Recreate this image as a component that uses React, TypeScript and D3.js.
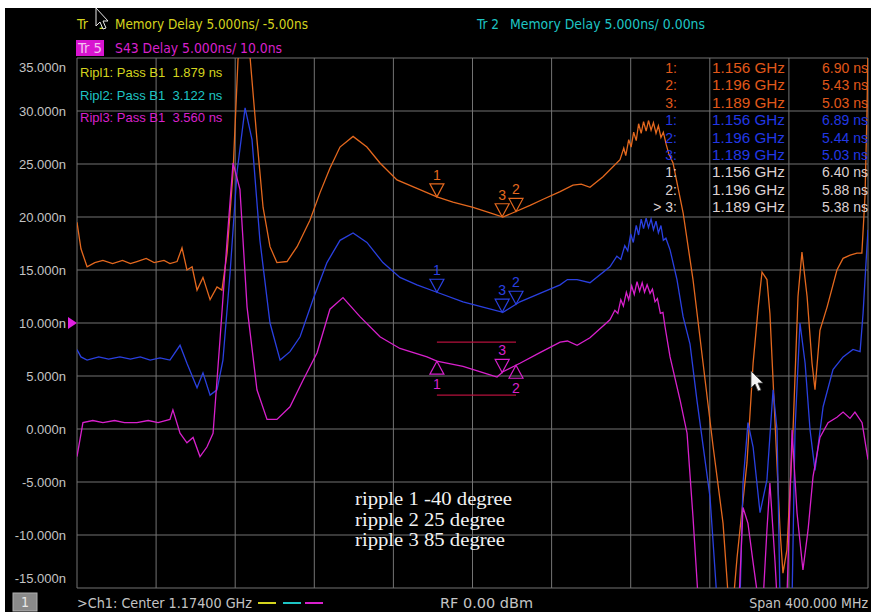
import React from "react";
import * as d3 from "d3";

// traces as [frequency MHz, displayed delay ns on the left scale]
const orangeTrace: [number, number][] = [
  [974.0, 19.5], [976.0, 17.0], [979.1, 15.3], [983, 15.7], [987.1, 15.9], [992, 15.6], [997, 15.9], [1001, 15.6],
  [1004.3, 15.8], [1009, 16.1], [1013, 15.7], [1018, 15.9], [1021, 15.6], [1024.6, 15.8], [1027.1, 17.1], [1029.6, 15.0],
  [1032.2, 15.3], [1034.7, 13.1], [1037.7, 14.3], [1041.3, 12.2], [1044.8, 13.4], [1047.3, 13.1], [1049.9, 16.6],
  [1052.9, 24.2], [1055.4, 34.8], [1057.4, 38], [1059.5, 38], [1061.5, 35.1], [1065.0, 27.3], [1068.1, 20.9],
  [1071.6, 17.2], [1075.1, 15.7], [1080.2, 15.8], [1085.3, 17.2], [1091.8, 19.7], [1096.9, 22.3], [1101.9, 24.6],
  [1107.0, 26.6], [1113.6, 27.6], [1120.6, 26.6], [1127.2, 25.1], [1135.8, 23.5], [1145.9, 22.7], [1156.0, 21.9],
  [1164.1, 21.4], [1174.3, 20.9], [1182.9, 20.4], [1189.4, 20.0], [1194.5, 20.4], [1203.1, 21.1], [1210, 21.7],
  [1218.3, 22.4], [1224.8, 23.0], [1229, 23.1], [1233.4, 22.8], [1240.0, 23.8], [1248.6, 25.4], [1250.5, 26.5],
  [1251.5, 25.8], [1253.0, 27.3], [1254.2, 26.6], [1255.5, 28.0], [1256.8, 27.2], [1258.0, 28.8], [1259.3, 27.9],
  [1260.5, 29.0], [1261.8, 28.1], [1263.0, 29.1], [1264.3, 28.2], [1265.5, 28.9], [1266.8, 27.9], [1268.0, 28.6],
  [1269.3, 27.5], [1270.5, 28.0], [1272.0, 26.8], [1273.2, 26.0], [1275.4, 25.1], [1280.5, 20.4], [1285.5, 14.1],
  [1290.6, 6.2], [1295.7, -1.7], [1300.7, -8.9], [1303.2, -15.5], [1306, -16], [1307.8, -12.1], [1312.8, -3.2],
  [1315.9, 6.2], [1318.5, 11.5], [1320.4, 14.8], [1322.9, 14.1], [1324.4, 10.9], [1327.0, 0.6], [1329.5, -9.5],
  [1331.0, -13.6], [1333.0, -11.4], [1336.1, -0.1], [1338.6, 12.5], [1340.6, 16.7], [1343.2, 12.5], [1345.7, 6.2],
  [1347.2, 3.7], [1349.7, 9.3], [1353.3, 11.5], [1358.3, 15.0], [1361.4, 16.1], [1365, 16.4], [1368.4, 16.6],
  [1370.9, 16.6], [1372.5, 22], [1373.5, 30], [1374.0, 36],
];

const blueTrace: [number, number][] = [
  [974.0, 7.5], [976, 6.8], [979.1, 6.5], [985, 6.8], [990, 6.6], [995.7, 6.8], [1001, 6.6], [1006, 6.8], [1011, 6.5],
  [1016, 6.7], [1021.0, 6.5], [1026.1, 7.9], [1029.6, 6.2], [1034.7, 3.9], [1037.7, 5.3], [1041.3, 3.2], [1044.8, 3.7],
  [1047.8, 6.5], [1051.4, 14.7], [1054.9, 24.2], [1059.0, 30.3], [1062.5, 27.3], [1066.5, 17.8], [1071.6, 10.0],
  [1076.7, 6.5], [1081.7, 7.3], [1086.8, 8.7], [1093.3, 12.2], [1100.4, 15.7], [1107.0, 17.8], [1113.6, 18.5],
  [1120.6, 17.6], [1128.7, 15.7], [1137.3, 14.3], [1145.9, 13.6], [1156.0, 12.9], [1169.2, 12.0], [1179.3, 11.5],
  [1189.4, 11.0], [1198.0, 12.0], [1208.1, 12.8], [1218.3, 13.6], [1222, 14.1], [1226.9, 14.1], [1233.4, 13.8],
  [1243.5, 15.3], [1247, 16.3], [1249, 16.0], [1251, 17.3], [1252.5, 16.8], [1254, 18.4], [1255.3, 17.6],
  [1256.8, 19.2], [1258, 18.3], [1259.3, 19.8], [1260.5, 18.9], [1261.8, 19.9], [1263, 19.0], [1264.3, 19.8],
  [1265.5, 18.8], [1266.8, 19.6], [1268, 18.5], [1269.3, 19.2], [1270.5, 17.8], [1271.8, 18.0], [1273.9, 16.9],
  [1277.4, 14.1], [1280.5, 10.6], [1284.0, 8.0], [1287.5, 2.7], [1294.1, -6.4], [1297.6, -16], [1309.3, -16],
  [1310.8, -5.1], [1313.3, 0.6], [1315.9, -1.7], [1319.4, -7.9], [1322.9, -4.8], [1326.0, 3.7], [1328.0, -0.1],
  [1329.5, -16], [1335.6, -16], [1337.1, -0.1], [1339.6, 10.0], [1342.2, 6.2], [1344.7, -0.1], [1347.2, -3.9],
  [1351.3, 2.1], [1356.3, 5.6], [1361.4, 6.8], [1366.4, 7.5], [1370.0, 7.3], [1371.5, 10.9], [1373.0, 15.7],
  [1374.0, 18.8],
];

const magentaTrace: [number, number][] = [
  [974.0, -2.6], [977.0, 0.6], [982, 0.8], [987.1, 0.6], [993, 0.8], [998, 0.6], [1004.3, 0.6], [1010, 0.8],
  [1015, 0.6], [1021.0, 0.9], [1022.5, 1.8], [1026.1, -0.4], [1029.6, -1.3], [1032.7, -0.8], [1036.2, -2.6],
  [1039.7, -1.7], [1042.8, -0.4], [1046.3, 8.4], [1049.9, 17.8], [1052.9, 25.1], [1056.4, 22.6], [1060.0, 11.5],
  [1065.0, 3.7], [1070.1, 0.9], [1075.1, 0.9], [1081.7, 2.1], [1088.3, 4.6], [1095.4, 7.2], [1101.9, 11.3],
  [1108.5, 12.4], [1117.1, 10.6], [1127.2, 8.7], [1137.3, 7.6], [1151.0, 6.8], [1156.0, 6.4], [1169.2, 5.9],
  [1182.9, 5.1], [1186.4, 4.9], [1189.4, 5.4], [1198.0, 6.2], [1208.1, 7.2], [1218.3, 8.2], [1222, 8.3],
  [1226.9, 7.9], [1233.4, 8.6], [1243.5, 10.3], [1246, 11.2], [1247.5, 10.9], [1249, 12.2], [1250.3, 11.6],
  [1251.8, 12.9], [1253, 12.2], [1254.5, 13.5], [1255.8, 12.7], [1257.2, 13.9], [1258.5, 13.0], [1259.8, 13.8],
  [1261, 12.9], [1262.3, 13.6], [1263.8, 12.8], [1265, 13.2], [1266.3, 12.0], [1267.5, 12.3], [1269, 10.9],
  [1270.3, 11.0], [1271.4, 9.6], [1273.9, 6.8], [1279.0, 2.7], [1282.5, -0.4], [1285.5, -8.3], [1288.1, -16],
  [1308.8, -16], [1310.8, -7.4], [1313.3, -8.9], [1315.9, -12.6], [1318.4, -16], [1321, -16], [1322.9, -9.5],
  [1324.4, -5.1], [1327.0, -12.6], [1328.0, -16], [1333.0, -16], [1335.6, -0.1], [1338.1, -7.9], [1341.1, -13.3],
  [1343.7, -9.5], [1346.2, -4.5], [1349.7, -0.8], [1353.8, 0.6], [1358.3, 1.1], [1361.4, 1.6], [1364.9, 1.0],
  [1367.4, 1.6], [1371.0, 0.6], [1374.0, -2.9],
];

const yTicks = [35, 30, 25, 20, 15, 10, 5, 0, -5, -10, -15];
const xDivs = d3.range(0, 11);

const markerNames = ["1", "2", "3"];
const markerFreqs = ["1.156", "1.196", "1.189"];
const orangeMarkerVals = ["6.90", "5.43", "5.03"];
const blueMarkerVals = ["6.89", "5.44", "5.03"];
const magentaMarkerVals = ["6.40", "5.88", "5.38"];

const rippleLabels = ["Ripl1: Pass B1  1.879 ns", "Ripl2: Pass B1  3.122 ns", "Ripl3: Pass B1  3.560 ns"];
const notes = ["ripple 1 -40 degree", "ripple 2 25 degree", "ripple 3 85 degree"];
const rippleBand = [8.2, 3.2];

const C = {
  orange: "#e4681e",
  orangeText: "#e0581a",
  blue: "#2a40e0",
  blueText: "#2238e4",
  magenta: "#d820cc",
  yellow: "#d4d41e",
  cyan: "#1ec4c4",
  grid: "#737373",
  label: "#c4c4c4",
  white: "#dcd0d0",
};

const narrow = "'Liberation Sans Narrow', 'DejaVu Sans Condensed', 'Roboto', sans-serif";
const sans = "'Liberation Sans', Arial, sans-serif";
const pre = { whiteSpace: "pre" as const };

function valueAt(trace: [number, number][], f: number) {
  const i = d3.bisector((d: [number, number]) => d[0]).left(trace, f);
  const a = trace[Math.max(0, i - 1)];
  const b = trace[Math.min(trace.length - 1, i)];
  if (a[0] === b[0]) return a[1];
  return a[1] + ((b[1] - a[1]) * (f - a[0])) / (b[0] - a[0]);
}

export default function App() {
  const W = 871, H = 612;
  const left = 77, right = 868, top = 58, bottom = 588;
  const x = d3.scaleLinear().domain([974, 1374]).range([left, right]);
  const y = d3.scaleLinear().domain([-15, 35]).range([bottom, top]);
  const line = d3.line<[number, number]>().x((d) => x(d[0])).y((d) => y(d[1]));

  const tri = (cx: number, cy: number, up: boolean) => {
    const h = 13, w = 7;
    const by = up ? cy + h : cy - h;
    return `M${cx - w},${by}L${cx + w},${by}L${cx},${cy}Z`;
  };

  const markerMarks = (trace: [number, number][], color: string, ups: boolean[]) =>
    markerFreqs.map((fs, i) => {
      const f = parseFloat(fs) * 1000;
      const cx = x(f);
      const cy = y(valueAt(trace, f));
      const up = ups[i];
      return (
        <g key={i}>
          <path d={tri(cx, cy, up)} fill="none" stroke={color} strokeWidth={1.2} />
          <text x={cx} y={up ? cy + 28 : cy - 17} fill={color} fontSize={14} fontFamily={sans} textAnchor="middle">
            {markerNames[i]}
          </text>
        </g>
      );
    });

  const tableRows = [
    ...orangeMarkerVals.map((v, i) => ({ n: `${markerNames[i]}:`, f: markerFreqs[i], v, c: C.orangeText })),
    ...blueMarkerVals.map((v, i) => ({ n: `${markerNames[i]}:`, f: markerFreqs[i], v, c: C.blueText })),
    ...magentaMarkerVals.map((v, i) => ({ n: `${i === 2 ? "> " : ""}${markerNames[i]}:`, f: markerFreqs[i], v, c: C.white })),
  ];

  return (
    <div style={{ position: "absolute", left: 0, top: 0 }}>
      <svg width={W} height={H} style={{ display: "block" }}>
        <rect x={0} y={0} width={W} height={H} fill="#ffffff" />
        <rect x={5} y={8} width={W - 5} height={H - 8} fill="#000000" />
        <defs>
          <clipPath id="plot">
            <rect x={left} y={top} width={right - left} height={bottom - top} />
          </clipPath>
        </defs>

        {/* grid */}
        {yTicks.map((t) => (
          <line key={`h${t}`} x1={left} x2={right} y1={y(t)} y2={y(t)} stroke={C.grid} strokeWidth={1} />
        ))}
        {xDivs.map((i) => (
          <line key={`v${i}`} x1={x(974 + 40 * i)} x2={x(974 + 40 * i)} y1={top} y2={bottom} stroke={C.grid} strokeWidth={1} />
        ))}

        {/* y labels */}
        {yTicks.map((t) => (
          <text
            key={`l${t}`}
            x={66}
            y={y(t) + (t === 35 ? 9 : t === -15 ? -10 : 0)}
            dy="0.35em"
            textAnchor="end"
            fill={C.label}
            fontSize={13}
            fontFamily={sans}
          >
            {`${t.toFixed(3)}n`}
          </text>
        ))}
        <path d={`M68,${y(10) - 6}L77,${y(10)}L68,${y(10) + 6}Z`} fill="#e020e0" />

        {/* traces */}
        <g clipPath="url(#plot)">
          <path d={line(orangeTrace) ?? ""} fill="none" stroke={C.orange} strokeWidth={1.3} />
          <path d={line(blueTrace) ?? ""} fill="none" stroke={C.blue} strokeWidth={1.3} />
          <path d={line(magentaTrace) ?? ""} fill="none" stroke={C.magenta} strokeWidth={1.3} />
        </g>

        {/* ripple band lines */}
        {rippleBand.map((v, i) => (
          <line key={`rb${i}`} x1={x(1156)} x2={x(1196)} y1={y(v)} y2={y(v)} stroke="#b4103c" strokeWidth={1.3} />
        ))}

        {/* markers */}
        {markerMarks(orangeTrace, C.orange, [false, false, false])}
        {markerMarks(blueTrace, C.blue, [false, false, false])}
        {markerMarks(magentaTrace, C.magenta, [true, true, false])}

        {/* ripple readouts */}
        {rippleLabels.map((s, i) => (
          <text key={s} x={80} y={77 + i * 22.5} fill={[C.yellow, C.cyan, C.magenta][i]} fontSize={13} fontFamily={sans} style={pre}>
            {s}
          </text>
        ))}

        {/* marker table */}
        {tableRows.map((r, i) => {
          const ry = 73 + i * 17.4;
          return (
            <g key={`tr${i}`} fill={r.c} fontFamily={sans} fontSize={14}>
              <text x={677} y={ry} textAnchor="end">{r.n}</text>
              <text x={712} y={ry} textLength={73} lengthAdjust="spacingAndGlyphs">{`${r.f} GHz`}</text>
              <text x={868} y={ry} textAnchor="end">{`${r.v} ns`}</text>
            </g>
          );
        })}

        {/* notes */}
        {notes.map((s, i) => (
          <text
            key={s}
            x={355}
            y={505 + i * 20.5}
            fill="#f2f2f2"
            fontSize={18}
            fontFamily="'Liberation Serif', 'Times New Roman', serif"
            textLength={i === 0 ? 157 : 150}
            lengthAdjust="spacingAndGlyphs"
          >
            {s}
          </text>
        ))}

        {/* header */}
        <g fontFamily={narrow} fontSize={14} style={pre}>
          <text x={77} y={29} fill={C.yellow}>Tr</text>
          <text x={98} y={29} fill={C.yellow}>1</text>
          <text x={115} y={29} fill={C.yellow} textLength={193} lengthAdjust="spacingAndGlyphs">Memory Delay 5.000ns/  -5.00ns</text>
          <text x={477} y={29} fill={C.cyan} textLength={22} lengthAdjust="spacingAndGlyphs">Tr 2</text>
          <text x={510} y={29} fill={C.cyan} textLength={195} lengthAdjust="spacingAndGlyphs">Memory Delay 5.000ns/  0.00ns</text>
          <rect x={76} y={40} width={28} height={16} fill="#d814d0" />
          <text x={78} y={53} fill="#f4c0f0" textLength={24} lengthAdjust="spacingAndGlyphs">Tr 5</text>
          <text x={115} y={53} fill={C.magenta} textLength={167} lengthAdjust="spacingAndGlyphs">S43 Delay 5.000ns/  10.0ns</text>
        </g>

        {/* footer */}
        <g fontFamily={narrow} fontSize={14} style={pre}>
          <rect x={13} y={593} width={24} height={18} fill="#8a8a8a" stroke="#b0b0b0" />
          <text x={25} y={607} fill="#e8e8e8" textAnchor="middle">1</text>
          <text x={77} y={608} fill={C.label} textLength={175} lengthAdjust="spacingAndGlyphs">{">Ch1: Center  1.17400 GHz"}</text>
          <line x1={258} x2={276} y1={603} y2={603} stroke={C.yellow} strokeWidth={2} />
          <line x1={283} x2={301} y1={603} y2={603} stroke={C.cyan} strokeWidth={2} />
          <line x1={305} x2={323} y1={603} y2={603} stroke={C.magenta} strokeWidth={2} />
          <text x={440} y={608} fill={C.label} textLength={93} lengthAdjust="spacingAndGlyphs">RF  0.00  dBm</text>
          <text x={868} y={608} fill={C.label} textAnchor="end">Span 400.000 MHz</text>
        </g>

        {/* mouse pointers */}
        <path d="M96,8L96,26L100,22L103,29L106,28L103,21L108,21Z" fill="#000" stroke="#e8e8e8" strokeWidth={1} />
        <path d="M751,371L751,388L755,384L758,391L761,390L758,383L763,383Z" fill="#f4f4f4" stroke="#404040" strokeWidth={0.8} />
      </svg>
    </div>
  );
}
